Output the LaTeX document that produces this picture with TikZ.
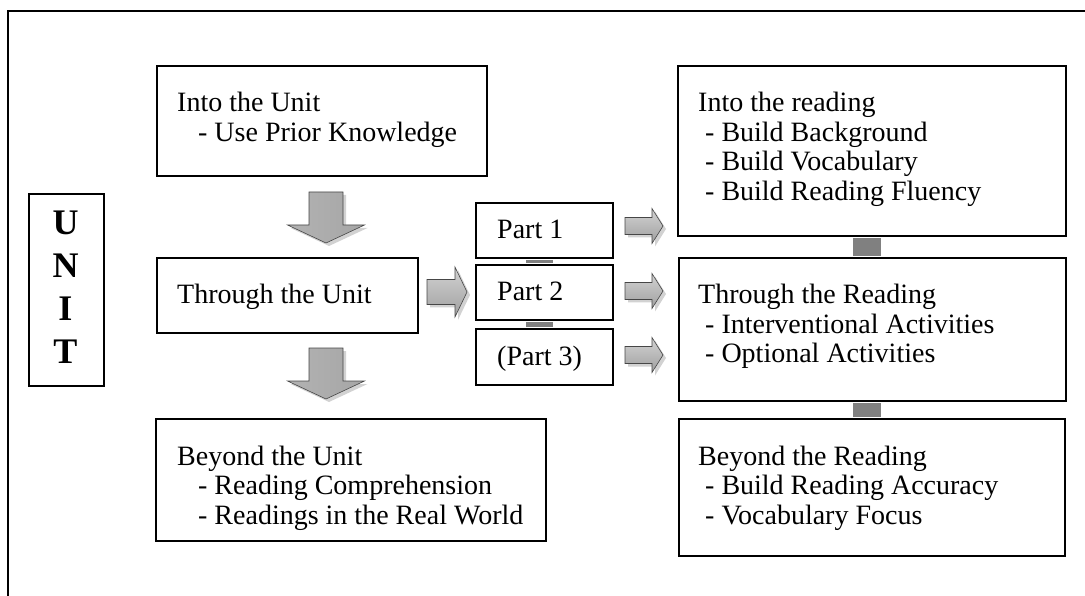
\documentclass[tikz,border=0pt]{standalone}
\usepackage{fontspec}
\setmainfont{Liberation Serif}
\usetikzlibrary{calc}

\tikzset{
  panel/.style={draw=black, line width=1.8pt, fill=white, inner sep=0pt, anchor=north west},
  boxtxt/.style={anchor=base west, inner sep=0pt, font=\fontsize{28}{29.5}\selectfont},
  linkbar/.style={fill=gray},
  arrowshadow/.style={fill=gray!35},
  arrowbody/.style={draw=gray!55!black, line width=0.6pt},
  % block arrow pointing down, origin at the middle of its top edge
  downarrow/.pic={
    \fill[arrowshadow] (-14,3) -- (20,3) -- (20,36) -- (41.5,36) -- (3,54) -- (-35.5,36) -- (-14,36) -- cycle;
    \shade[arrowbody, left color=gray!60, middle color=gray!12, right color=gray!70]
      (-17,0) -- (17,0) -- (17,33) -- (38.5,33) -- (0,51) -- (-38.5,33) -- (-17,33) -- cycle;
  },
  % large block arrow pointing right, origin at the middle of its tail
  bigright/.pic={
    \fill[arrowshadow] (3,-9.5) -- (31,-9.5) -- (31,-22) -- (43,3) -- (31,28) -- (31,15.5) -- (3,15.5) -- cycle;
    \shade[arrowbody, top color=gray!35, bottom color=gray!75]
      (0,-12.5) -- (28,-12.5) -- (28,-25) -- (40,0) -- (28,25) -- (28,12.5) -- (0,12.5) -- cycle;
  },
  % small block arrow pointing right, origin at the middle of its tail
  smallright/.pic={
    \fill[arrowshadow] (3,-5.5) -- (30,-5.5) -- (30,-14.5) -- (41,3) -- (30,20.5) -- (30,11.5) -- (3,11.5) -- cycle;
    \shade[arrowbody, top color=gray!35, bottom color=gray!75]
      (0,-8.5) -- (27,-8.5) -- (27,-17.5) -- (38,0) -- (27,17.5) -- (27,8.5) -- (0,8.5) -- cycle;
  }
}

\begin{document}
\begin{tikzpicture}[x=1pt, y=-1pt]
  \useasboundingbox (0,0) rectangle (1085,596);

  % outer frame (runs off the page at right and bottom)
  \draw[line width=1.6pt] (8,620) -- (8,11) -- (1110,11);

  % UNIT label box
  \node[panel, minimum width=75, minimum height=192] (unitbox) at (28,193) {};
  \node[anchor=base, inner sep=0pt, font=\fontsize{36}{43}\selectfont\bfseries] (unitword) at (65.5,235)
    {\begin{tabular}[t]{@{}c@{}}U\\N\\I\\T\end{tabular}};

  % unit column
  \node[panel, minimum width=330, minimum height=110] (intoU) at (156,65) {};
  \node[panel, minimum width=261, minimum height=75]  (thruU) at (156,257) {};
  \node[panel, minimum width=390, minimum height=122] (beyondU) at (155,418) {};

  \node[boxtxt] (intoUtxt) at (177,112)
    {\begin{tabular}[t]{@{}l@{}}Into the Unit\\\hspace{21pt}- Use Prior Knowledge\end{tabular}};
  \node[boxtxt] (thruUtxt) at (177,304) {Through the Unit};
  \node[boxtxt] (beyondUtxt) at (177,465)
    {\begin{tabular}[t]{@{}l@{}}Beyond the Unit\\\hspace{21pt}- Reading Comprehension\\\hspace{21pt}- Readings in the Real World\end{tabular}};

  % parts column
  \node[panel, minimum width=137, minimum height=55] (part1) at (475,202) {};
  \node[panel, minimum width=137, minimum height=55] (part2) at (475,264) {};
  \node[panel, minimum width=137, minimum height=56] (part3) at (475,328) {};
  \node[boxtxt] (part1txt) at (497,239) {Part 1};
  \node[boxtxt] (part2txt) at (497,301) {Part 2};
  \node[boxtxt] (part3txt) at (497,365) {(Part 3)};

  \fill[linkbar] ($(part1.south)+(-18.5,0.9)$) rectangle ($(part2.north)+(8.5,-0.9)$);
  \fill[linkbar] ($(part2.south)+(-18.5,0.9)$) rectangle ($(part3.north)+(8.5,-0.9)$);

  % reading column
  \node[panel, minimum width=388, minimum height=170] (intoR) at (677,65) {};
  \node[panel, minimum width=387, minimum height=143] (thruR) at (678,257) {};
  \node[panel, minimum width=386, minimum height=137] (beyondR) at (678,418) {};

  \fill[linkbar] ($(intoR.south)+(-19,0.9)$) rectangle ($(thruR.north)+(9,-0.9)$);
  \fill[linkbar] ($(thruR.south)+(-19,0.9)$) rectangle ($(beyondR.north)+(9,-0.9)$);

  \node[boxtxt] (intoRtxt) at (698,112)
    {\begin{tabular}[t]{@{}l@{}}Into the reading\\\hspace{7pt}- Build Background\\\hspace{7pt}- Build Vocabulary\\\hspace{7pt}- Build Reading Fluency\end{tabular}};
  \node[boxtxt] (thruRtxt) at (698,304)
    {\begin{tabular}[t]{@{}l@{}}Through the Reading\\\hspace{7pt}- Interventional Activities\\\hspace{7pt}- Optional Activities\end{tabular}};
  \node[boxtxt] (beyondRtxt) at (698,465)
    {\begin{tabular}[t]{@{}l@{}}Beyond the Reading\\\hspace{7pt}- Build Reading Accuracy\\\hspace{7pt}- Vocabulary Focus\end{tabular}};

  % block arrows
  \pic at (326,192) {downarrow};
  \pic at (326,348) {downarrow};
  \pic at (427,292) {bigright};
  \pic at (625,226) {smallright};
  \pic at (625,291) {smallright};
  \pic at (625,355) {smallright};
\end{tikzpicture}
\end{document}
